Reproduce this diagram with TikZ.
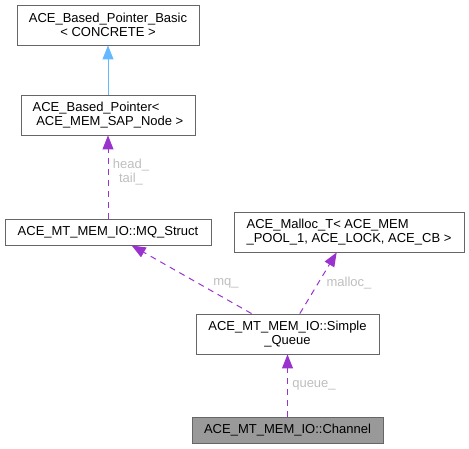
\documentclass[tikz,border=0pt]{standalone}
\usepackage{fontspec}
\setmainfont{Liberation Sans}
\usetikzlibrary{arrows.meta}
\definecolor{edgeblue}{HTML}{63B8FF}
\definecolor{edgepurple}{HTML}{9A32CD}
\definecolor{boxline}{HTML}{666666}
\definecolor{labelgray}{HTML}{BEBEBE}
\tikzset{
  cls/.style={draw=boxline, line width=0.9pt, inner sep=0pt, font=\fontsize{13}{14}\selectfont},
  inherit/.style={edgeblue, line width=1pt, -{Triangle[length=14pt,width=11pt]}},
  uses/.style={edgepurple, line width=1pt, dash pattern=on 6pt off 5pt, -{Triangle[length=14pt,width=11pt]}},
  lbl/.style={labelgray, font=\fontsize{13}{14}\selectfont, align=center, inner sep=0pt}
}
\begin{document}
\begin{tikzpicture}[
  x=1pt, y=-1pt
]
\useasboundingbox (0,0) rectangle (469,448);

\node [cls, minimum width=182pt, minimum height=40pt, align=center] (basic) at (108,25) {ACE\_Based\_Pointer\_Basic\\< CONCRETE >};
\node [cls, minimum width=174pt, minimum height=40pt, align=left] (based) at (108,115) {ACE\_Based\_Pointer<\\\ ACE\_MEM\_SAP\_Node >};
\node [cls, minimum width=206pt, minimum height=26pt] (mqstruct) at (108,232) {ACE\_MT\_MEM\_IO::MQ\_Struct};
\node [cls, minimum width=230pt, minimum height=40pt, align=left] (malloc) at (349,232) {ACE\_Malloc\_T< ACE\_MEM\\\_POOL\_1, ACE\_LOCK, ACE\_CB >};
\node [cls, minimum width=183pt, minimum height=40pt, align=center] (queue) at (287.5,334) {ACE\_MT\_MEM\_IO::Simple\\\_Queue};
\node [cls, fill=black!40, minimum width=191pt, minimum height=26pt] (channel) at (287.5,430) {ACE\_MT\_MEM\_IO::Channel};

% inheritance
\draw [inherit] (based) -- (basic);

% usage
\draw [uses] (mqstruct) -- (based);
\draw [uses] (queue) -- (mqstruct);
\draw [uses] (queue) -- (malloc);
\draw [uses] (channel) -- (queue);

\node [lbl] (headtail) at (131,172) {head\_\\tail\_};
\node [lbl] (mq) at (226,283) {mq\_};
\node [lbl] (mall) at (349,283) {malloc\_};
\node [lbl] (qu) at (314,385) {queue\_};
\end{tikzpicture}
\end{document}
